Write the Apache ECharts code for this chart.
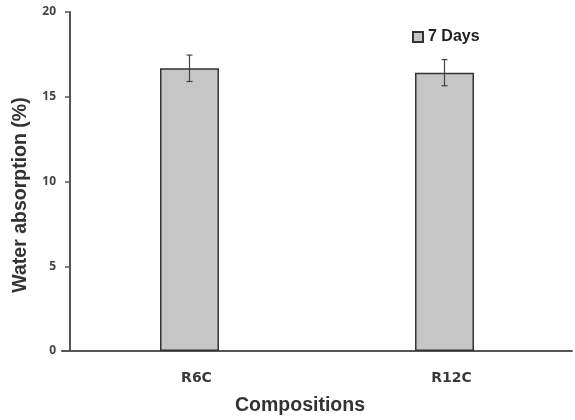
<!DOCTYPE html>
<html>
<head>
<meta charset="utf-8">
<script src="https://cdn.jsdelivr.net/npm/echarts@6/dist/echarts.min.js"></script>
<style>html,body{margin:0;padding:0;background:#fff;}#c{width:575px;height:420px;}</style>
</head>
<body>
<div id="c"></div>
<script>
var categories = ['R6C', 'R12C'];
var seriesName = '7 Days';
var values = [16.68, 16.42];
var errors = [0.78, 0.77];
var yTicks = [0, 5, 10, 15, 20];

var chart = echarts.init(document.getElementById('c'), null, {renderer: 'canvas'});
var errData = categories.map(function (c, i) { return [i, values[i] - errors[i], values[i] + errors[i]]; });

chart.setOption({
  animation: false,
  backgroundColor: '#ffffff',
  grid: {left: 62, right: 3, top: 12, bottom: 69, containLabel: false},
  legend: {
    data: [seriesName], left: 407, top: 24, icon: 'rect', itemWidth: 10, itemHeight: 10, itemGap: 4,
    textStyle: {fontFamily: 'Liberation Sans', fontWeight: 'bold', fontSize: 16, color: '#222'}
  },
  xAxis: {
    type: 'category', data: categories,
    axisLine: {lineStyle: {color: '#555', width: 2}},
    axisTick: {show: false},
    axisLabel: {fontFamily: 'DejaVu Sans', fontWeight: 'bold', fontSize: 14, color: '#3a3a3a', margin: 20, padding: [0, 0, 0, 14]}
  },
  yAxis: {
    type: 'value', min: yTicks[0], max: yTicks[yTicks.length - 1], interval: 5, offset: -8,
    splitLine: {show: false},
    axisLine: {show: true, lineStyle: {color: '#555', width: 2}},
    axisTick: {show: true, length: 5, lineStyle: {color: '#555', width: 1.5}},
    axisLabel: {fontFamily: 'Open Sans', fontWeight: 'bold', fontSize: 12, color: '#444', margin: 14}
  },
  series: [
    {
      name: seriesName, type: 'bar', data: values, barWidth: 59,
      itemStyle: {color: '#c6c6c6', borderColor: '#333', borderWidth: 1.5}
    },
    {
      type: 'custom', data: errData, z: 10,
      renderItem: function (params, api) {
        var x = api.coord([api.value(0), api.value(1)])[0];
        var lo = api.coord([api.value(0), api.value(1)])[1];
        var hi = api.coord([api.value(0), api.value(2)])[1];
        var hw = 3;
        var st = {stroke: '#444', lineWidth: 1.2};
        return {type: 'group', children: [
          {type: 'line', shape: {x1: x, y1: lo, x2: x, y2: hi}, style: st},
          {type: 'line', shape: {x1: x - hw, y1: lo, x2: x + hw, y2: lo}, style: st},
          {type: 'line', shape: {x1: x - hw, y1: hi, x2: x + hw, y2: hi}, style: st}
        ]};
      }
    }
  ],
  graphic: [
    {type: 'text', x: 21, y: 195, rotation: Math.PI / 2,
      style: {text: 'Water absorption (%)', fontFamily: 'Liberation Sans', fontWeight: 'bold', fontSize: 19.5, fill: '#333', align: 'center', verticalAlign: 'middle'}},
    {type: 'text', x: 300, y: 406,
      style: {text: 'Compositions', fontFamily: 'Liberation Sans', fontWeight: 'bold', fontSize: 19.5, fill: '#333', align: 'center', verticalAlign: 'middle'}}
  ]
});
</script>
</body>
</html>
